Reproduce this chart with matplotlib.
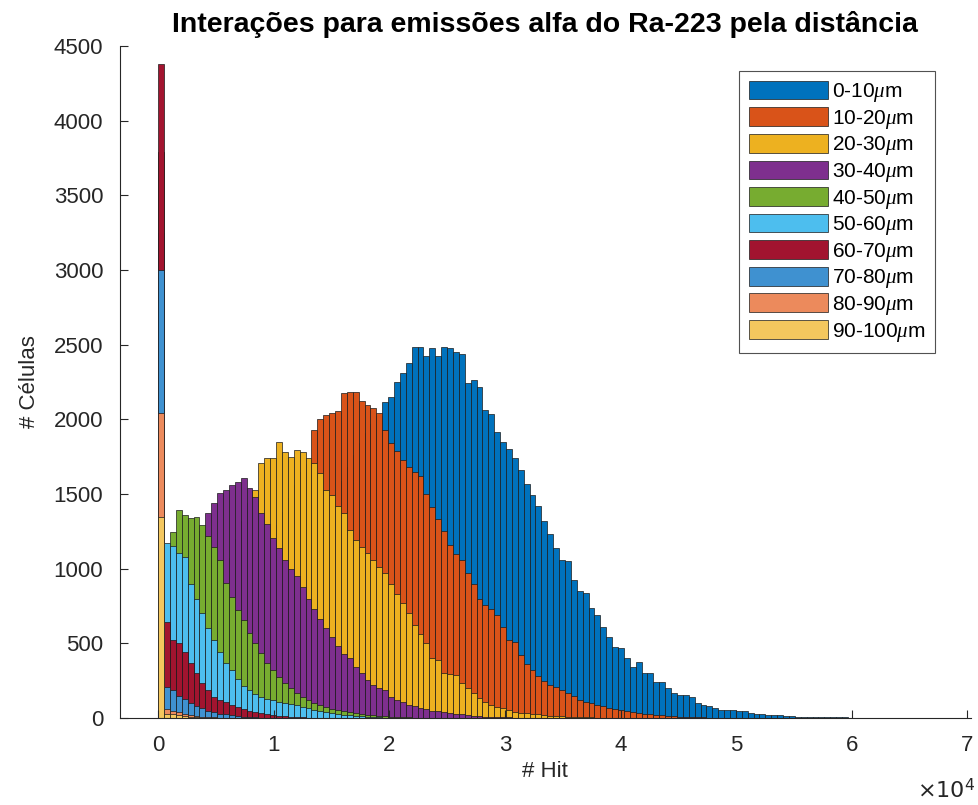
import numpy as np
import matplotlib
matplotlib.use("Agg")
import matplotlib.pyplot as plt

plt.rcParams['font.family'] = ['Liberation Sans', 'DejaVu Sans']
plt.rcParams['mathtext.fontset'] = 'custom'
plt.rcParams['mathtext.it'] = 'Liberation Serif:italic'

# contagens por bin (largura ~510 hits)
larguraBin = 510

faixas = ['0-10', '10-20', '20-30', '30-40', '40-50',
          '50-60', '60-70', '70-80', '80-90', '90-100']

c0_10 = [200, 15, 25, 35, 50, 65, 80, 100, 120, 145,
         170, 200, 235, 270, 310, 355, 400, 450, 505, 565,
         630, 700, 775, 855, 940, 1030, 1120, 1215, 1310, 1405,
         1500, 1590, 1680, 1760, 1840, 1910, 1970, 2020,
         2117, 2150, 2250, 2310, 2378, 2485, 2485, 2425, 2480, 2425,
         2485, 2475, 2450, 2440, 2245, 2265, 2218, 2063, 2036, 1916,
         1850, 1800, 1740, 1660, 1570, 1490, 1420, 1320, 1230, 1140,
         1060, 1050, 924, 850, 840, 737, 690, 610, 543, 476,
         470, 402, 342, 375, 301, 301, 241, 241, 200, 167,
         154, 154, 140, 100, 87, 80, 67, 55, 54, 54,
         50, 45, 33, 30, 25, 22, 20, 18, 15, 12,
         10, 8, 8, 6, 6, 5, 5, 4, 4, 3,
         3, 3, 2, 2, 2, 2, 1, 1, 1, 1,
         1, 1, 1, 1, 1, 1]

c10_20 = [600, 20, 30, 50, 70, 100, 130, 170, 220, 280,
          350, 420, 500, 600, 700, 800, 900, 1000, 1100, 1200,
          1290, 1380, 1470, 1560, 1650, 1700,
          1930, 2000, 2030, 2045, 2055, 2176, 2183, 2180, 2120, 2096,
          2076, 2040, 1930, 1840, 1790, 1730, 1680, 1650, 1620, 1500,
          1410, 1330, 1250, 1160, 1100, 1060, 971, 900, 800, 757,
          730, 690, 610, 520, 510, 420, 360, 320, 280, 250,
          220, 205, 190, 165, 150, 120, 110, 100, 90, 80,
          70, 60, 54, 45, 40, 35, 30, 25, 22, 18,
          15, 12, 10, 8, 6, 5, 4, 3, 2, 2, 1]

c20_30 = [1000, 30, 60, 100, 150, 220, 300, 400, 520, 650,
          790, 930, 1070, 1200, 1320, 1440,
          1527, 1707, 1741, 1741, 1848, 1781, 1748, 1795, 1781, 1741,
          1707, 1640, 1527, 1493, 1420, 1373, 1259, 1192, 1145, 1105,
          1058, 1011, 971, 900, 830, 770, 700, 620, 560, 502,
          400, 388, 301, 295, 288, 234, 201, 167, 134, 107,
          87, 75, 67, 55, 40, 36, 33, 28, 24, 20,
          17, 14, 12, 10, 8, 6, 5, 4, 3, 2, 2, 1]

c30_40 = [2500, 60, 150, 300, 500, 750, 1000, 1250,
          1373, 1440, 1507, 1530, 1560, 1580, 1607, 1540, 1480, 1370,
          1300, 1205, 1140, 1060, 1000, 950, 880, 800, 730, 660,
          600, 540, 480, 430, 400, 342, 301, 254, 220, 200,
          188, 141, 120, 107, 90, 80, 70, 60, 50, 45,
          40, 35, 30, 25, 20, 16, 12, 10, 8, 6,
          5, 4, 3, 2, 2, 1]

c40_50 = [3790, 1150, 1246, 1393, 1360, 1340, 1346, 1293, 1220, 1145,
          1058, 904, 810, 723, 656, 569, 502, 435, 368, 321,
          275, 234, 200, 167, 141, 120, 100, 87, 74, 64,
          54, 45, 38, 33, 27, 22, 18, 14, 11, 9,
          7, 5, 4, 3, 2, 2, 1]

c50_60 = [3250, 1172, 1150, 1105, 1078, 900, 800, 700, 600, 520,
          440, 368, 321, 260, 215, 185, 160, 141, 130, 120,
          110, 100, 92, 85, 74, 65, 56, 48, 40, 34,
          28, 23, 18, 14, 11, 8, 6, 4, 3, 2, 1]

c60_70 = [4380, 640, 522, 502, 442, 368, 301, 234, 188, 141,
          120, 105, 90, 75, 62, 50, 40, 32, 25, 20,
          15, 11, 8, 6, 4, 3, 2, 1]

c70_80 = [3000, 210, 190, 150, 130, 100, 80, 65, 50, 40,
          30, 24, 18, 14, 10, 7, 5, 3, 2, 1]

c80_90 = [2040, 60, 50, 40, 30, 22, 15, 10, 7, 4, 2]

c90_100 = [1346, 30, 25, 18, 12, 8, 5, 3, 2, 1]

contagens = [c0_10, c10_20, c20_30, c30_40, c40_50,
             c50_60, c60_70, c70_80, c80_90, c90_100]

cores = ['#0072BD', '#D95319', '#EDB120', '#7E2F8E', '#77AC30',
         '#4DBEEE', '#A2142F', '#3F91D0', '#EC8A5C', '#F4C75E']

fig = plt.figure(figsize=(9.79, 8.05), dpi=100)
ax = fig.add_axes([0.1226, 0.108, 0.869, 0.835])

for faixa, cont, cor in zip(faixas, contagens, cores):
    cont = np.array(cont)
    bordas = np.arange(len(cont)) * larguraBin
    ax.bar(bordas, cont, width=larguraBin, align='edge', color=cor,
           edgecolor='#1a1a1a', linewidth=0.5,
           label=faixa + r'$\mathit{\mu}$m')

ax.set_xlim(-3300, 70300)
ax.set_ylim(0, 4500)
ax.set_yticks(np.arange(0, 4501, 500))
ax.set_xticks(np.arange(0, 70001, 10000))
ax.set_xticklabels([str(i) for i in range(8)])

cinza = '#262626'
for lado in ['top', 'right']:
    ax.spines[lado].set_visible(False)
for lado in ['left', 'bottom']:
    ax.spines[lado].set_color(cinza)
    ax.spines[lado].set_linewidth(0.8)
ax.tick_params(direction='in', length=6, width=0.8, colors=cinza,
               labelsize=16, pad=12)

ax.set_title('Interações para emissões alfa do Ra-223 pela distância',
             fontsize=20.5, fontweight='bold', pad=10)
ax.set_xlabel('# Hit', fontsize=16, color=cinza, labelpad=4)
ax.set_ylabel('# Células', fontsize=16, color=cinza, labelpad=10)
fig.text(0.996, 0.003, r'$\times10^{4}$', fontsize=16, color=cinza,
         ha='right', va='bottom')

leg = ax.legend(loc='upper right', bbox_to_anchor=(0.958, 0.962),
                fontsize=15, frameon=True, fancybox=False,
                edgecolor='#262626', handlelength=3.8, handleheight=1.0,
                labelspacing=0.15, borderpad=0.45, handletextpad=0.2,
                borderaxespad=0)
leg.get_frame().set_linewidth(0.8)

fig.savefig('out.png', dpi=100)
